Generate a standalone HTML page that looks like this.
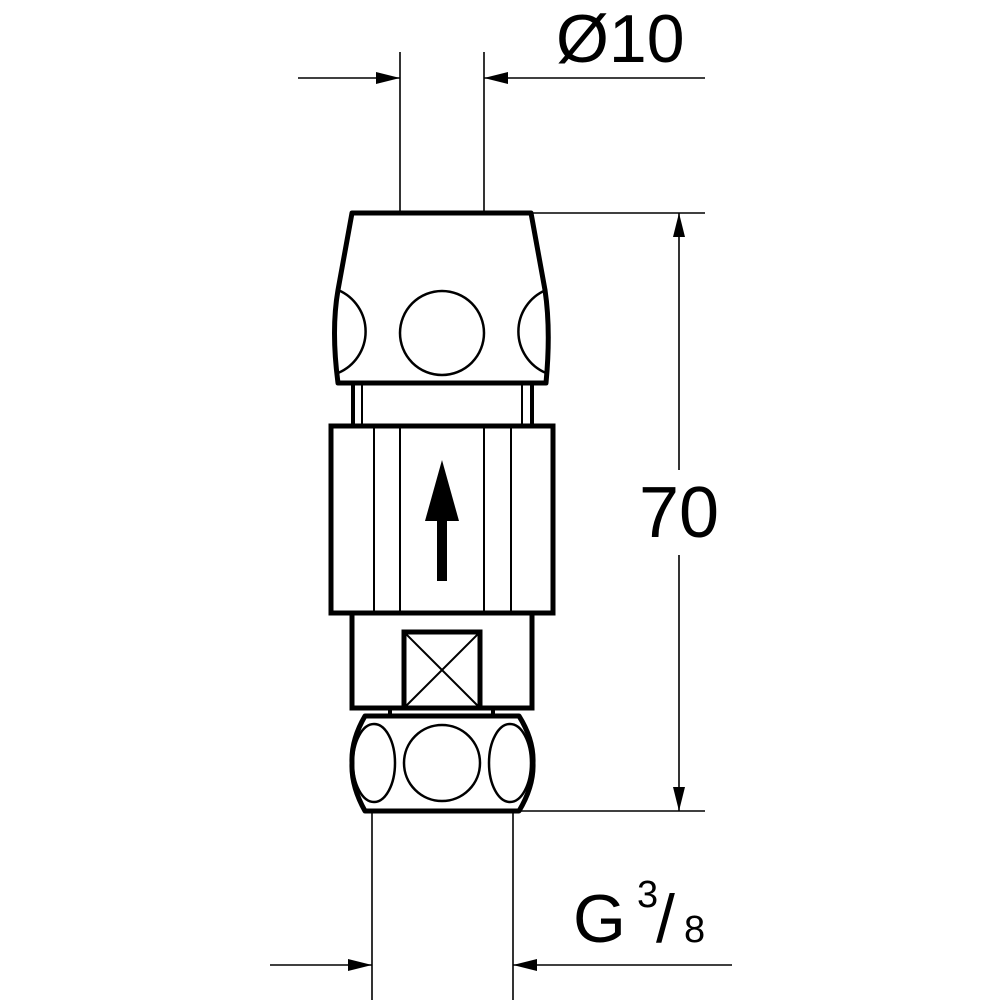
<!DOCTYPE html>
<html><head><meta charset="utf-8"><style>
html,body{margin:0;padding:0;background:#fff;}
svg{display:block;}
text{font-family:"Liberation Sans",sans-serif;fill:#000;}
</style></head><body>
<svg width="1000" height="1000" viewBox="0 0 1000 1000" xmlns="http://www.w3.org/2000/svg">
<g stroke="#000" fill="none">
<!-- dimension lines -->
<g stroke-width="1.6">
<line x1="400" y1="52" x2="400" y2="213"/>
<line x1="484" y1="52" x2="484" y2="213"/>
<line x1="298" y1="78" x2="400" y2="78"/>
<line x1="484" y1="78" x2="705" y2="78"/>
<line x1="531" y1="213" x2="705" y2="213"/>
<line x1="519" y1="811" x2="705" y2="811"/>
<line x1="679" y1="213" x2="679" y2="470"/>
<line x1="679" y1="555" x2="679" y2="811"/>
<line x1="372" y1="811" x2="372" y2="1000"/>
<line x1="513" y1="811" x2="513" y2="1000"/>
<line x1="270" y1="965" x2="372" y2="965"/>
<line x1="513" y1="965" x2="732" y2="965"/>
</g>
<!-- top nut -->
<path d="M352,213 L531,213 L545,290 Q551,330 546,383 L338,383 Q331,330 338,290 Z" stroke-width="5" stroke-linejoin="round"/>
<g stroke-width="2.5">
<circle cx="442" cy="333" r="42"/>
<path d="M338,290 A45,45 0 0 1 338,373"/>
<path d="M546,290 A45,45 0 0 0 546,373"/>
</g>
<!-- pins -->
<line x1="353" y1="383" x2="353" y2="426" stroke-width="4"/>
<line x1="362" y1="383" x2="362" y2="426" stroke-width="2"/>
<line x1="532" y1="383" x2="532" y2="426" stroke-width="4"/>
<line x1="522" y1="383" x2="522" y2="426" stroke-width="2"/>
<!-- body -->
<rect x="331" y="426" width="222" height="187" stroke-width="5"/>
<g stroke-width="2">
<line x1="374" y1="426" x2="374" y2="613"/>
<line x1="400" y1="426" x2="400" y2="613"/>
<line x1="484" y1="426" x2="484" y2="613"/>
<line x1="511" y1="426" x2="511" y2="613"/>
</g>
<!-- lower hex -->
<rect x="352" y="613" width="180" height="95" stroke-width="5"/>
<rect x="404" y="632" width="76" height="76" stroke-width="5"/>
<line x1="404" y1="632" x2="480" y2="708" stroke-width="2"/>
<line x1="480" y1="632" x2="404" y2="708" stroke-width="2"/>
<line x1="390" y1="708" x2="390" y2="716" stroke-width="4"/>
<line x1="493" y1="708" x2="493" y2="716" stroke-width="4"/>
<!-- bottom nut -->
<path d="M365,716 L519,716 Q534,740 533,763 Q534,786 519,811 L365,811 Q351,786 352,763 Q351,740 365,716 Z" stroke-width="5" stroke-linejoin="round"/>
<g stroke-width="2.5">
<ellipse cx="374" cy="763" rx="21" ry="39"/>
<circle cx="442" cy="763" r="38"/>
<ellipse cx="510" cy="763" rx="21" ry="39"/>
</g>
</g>
<!-- flow arrow -->
<g fill="#000">
<polygon points="442,460 459,521 425,521"/>
<rect x="437" y="519" width="10" height="62"/>
<!-- dimension arrowheads -->
<polygon points="400,78 376,72 376,84"/>
<polygon points="484,78 508,72 508,84"/>
<polygon points="679,213 673,237 685,237"/>
<polygon points="679,811 673,787 685,787"/>
<polygon points="372,965 348,959 348,971"/>
<polygon points="513,965 537,959 537,971"/>
</g>
<text x="556" y="62" font-size="68">Ø10</text>
<text x="639" y="537" font-size="72">70</text>
<text x="573" y="942" font-size="68">G</text>
<text x="637" y="907" font-size="38">3</text>
<text x="656" y="942" font-size="68">/</text>
<text x="684" y="942" font-size="38">8</text>
</svg>
</body></html>
